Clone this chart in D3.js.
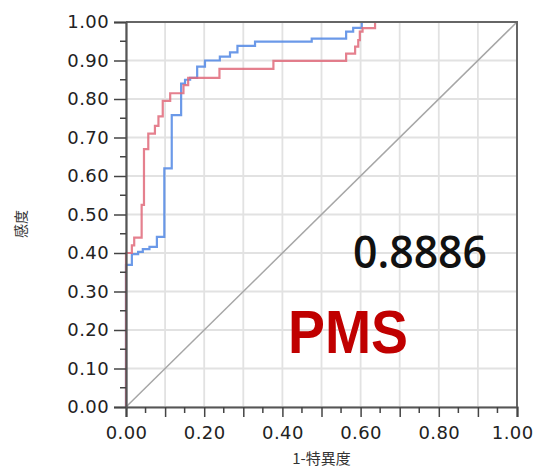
<!DOCTYPE html>
<html>
<head>
    <meta charset="utf-8">
    <script src="https://d3js.org/d3.v7.min.js"></script>
    <style>
        body { margin: 0; background: #fff; }
    </style>
</head>
<body>
    <script>
        // ROC data (step corners)
        var redFpr = [0, 0, 0.015, 0.021, 0.040, 0.046, 0.057, 0.074, 0.083, 0.094, 0.113, 0.147, 0.159, 0.239, 0.377, 0.563, 0.586, 0.594, 0.598, 0.605, 0.637, 1];
        var redTpr = [0, 0.40, 0.42, 0.44, 0.525, 0.67, 0.71, 0.73, 0.755, 0.795, 0.815, 0.836, 0.855, 0.878, 0.899, 0.918, 0.936, 0.953, 0.975, 0.984, 1, 1];
        var blueFpr = [0, 0, 0.015, 0.031, 0.043, 0.060, 0.079, 0.098, 0.117, 0.141, 0.151, 0.164, 0.182, 0.202, 0.240, 0.266, 0.285, 0.330, 0.475, 0.563, 0.581, 0.603, 1];
        var blueTpr = [0, 0.369, 0.397, 0.403, 0.41, 0.416, 0.442, 0.62, 0.758, 0.84, 0.85, 0.855, 0.884, 0.90, 0.91, 0.921, 0.938, 0.949, 0.957, 0.975, 0.985, 1, 1];
        var gridTicks = [0, 0.1, 0.2, 0.3, 0.4, 0.5, 0.6, 0.7, 0.8, 0.9, 1];
        var minorTicks = [0.05, 0.15, 0.25, 0.35, 0.45, 0.55, 0.65, 0.75, 0.85, 0.95];
        var xLabelTicks = [0, 0.2, 0.4, 0.6, 0.8, 1];
        var aucText = "0.8886";
        var markerText = "PMS";

        var w = 535, h = 468;
        var pl = 126, pr = 517, pt = 22, pb = 407;

        var svg = d3.select("body").append("svg").attr("width", w).attr("height", h);

        var x = d3.scaleLinear().domain([0, 1]).range([pl, pr]);
        var y = d3.scaleLinear().domain([0, 1]).range([pb, pt]);

        // grid
        var grid = svg.append("g");
        grid.selectAll(".gx").data(gridTicks).enter().append("line")
            .attr("x1", d => x(d)).attr("x2", d => x(d))
            .attr("y1", pt).attr("y2", pb)
            .attr("stroke", "#e2e2e2").attr("stroke-width", 1.8);
        grid.selectAll(".gy").data(gridTicks).enter().append("line")
            .attr("x1", pl).attr("x2", pr)
            .attr("y1", d => y(d)).attr("y2", d => y(d))
            .attr("stroke", "#e2e2e2").attr("stroke-width", 1.8);

        // diagonal reference
        svg.append("line")
            .attr("x1", x(0)).attr("y1", y(0)).attr("x2", x(1)).attr("y2", y(1))
            .attr("stroke", "#a6a6a6").attr("stroke-width", 1.5);

        // text annotations
        svg.append("text")
            .attr("x", 353).attr("y", 268)
            .attr("textLength", 134).attr("lengthAdjust", "spacingAndGlyphs")
            .attr("font-family", "'Open Sans', sans-serif").attr("font-size", 45)
            .attr("font-weight", 600)
            .attr("fill", "#111")
            .text(aucText);
        svg.append("text")
            .attr("x", 288).attr("y", 353)
            .attr("textLength", 120).attr("lengthAdjust", "spacingAndGlyphs")
            .attr("font-family", "'Liberation Sans', Arial, sans-serif").attr("font-weight", "bold").attr("font-size", 62)
            .attr("fill", "#c00000")
            .text(markerText);

        // curves
        var line = d3.line().curve(d3.curveStepAfter).x(d => x(d[0])).y(d => y(d[1]));
        svg.append("path")
            .datum(d3.zip(blueFpr, blueTpr))
            .attr("d", line)
            .attr("fill", "none").attr("stroke", "#5b8ee6").attr("stroke-width", 2.2).attr("opacity", 0.9);
        svg.append("path")
            .datum(d3.zip(redFpr, redTpr))
            .attr("d", line)
            .attr("fill", "none").attr("stroke", "#e06a7a").attr("stroke-width", 2.2).attr("opacity", 0.85);

        // frame (top, right)
        svg.append("path")
            .attr("d", "M" + pl + "," + pt + "H" + pr + "V" + pb)
            .attr("fill", "none").attr("stroke", "#666").attr("stroke-width", 2);

        // axes
        var xAxis = svg.append("g").attr("transform", "translate(0," + pb + ")")
            .call(d3.axisBottom(x).tickValues(gridTicks).tickSize(10).tickFormat(d => xLabelTicks.indexOf(d) >= 0 ? d3.format(".2f")(d) : ""));
        xAxis.append("g").selectAll("line").data(minorTicks).enter().append("line")
            .attr("x1", d => x(d)).attr("x2", d => x(d)).attr("y1", 0).attr("y2", 6)
            .attr("stroke", "#444").attr("stroke-width", 1.5);

        var yAxis = svg.append("g").attr("transform", "translate(" + pl + ",0)")
            .call(d3.axisLeft(y).tickValues(gridTicks).tickSize(12).tickFormat(d3.format(".2f")));
        yAxis.append("g").selectAll("line").data(minorTicks).enter().append("line")
            .attr("x1", 0).attr("x2", -6).attr("y1", d => y(d)).attr("y2", d => y(d))
            .attr("stroke", "#444").attr("stroke-width", 1.5);

        [xAxis, yAxis].forEach(function (g) {
            g.select(".domain").attr("stroke", "#555").attr("stroke-width", 2.2);
            g.selectAll(".tick line").attr("stroke", "#444").attr("stroke-width", 1.5);
            g.selectAll(".tick text")
                .attr("font-family", "'DejaVu Sans', sans-serif").attr("font-size", 18)
                .attr("letter-spacing", 0.4).attr("fill", "#222");
        });
        xAxis.selectAll(".tick text").attr("y", 19).attr("dy", "0.71em");
        // keep the last label inside the window, as in the original
        xAxis.selectAll(".tick text").filter(d => d === 1).attr("text-anchor", "end").attr("x", 16);
        yAxis.selectAll(".tick text").attr("x", -17);

        // axis titles
        svg.append("text")
            .attr("x", x(0.5)).attr("y", 464)
            .attr("text-anchor", "middle")
            .attr("font-family", "'Noto Sans CJK JP', sans-serif").attr("font-size", 15)
            .attr("fill", "#333")
            .text("1-特異度");
        svg.append("text")
            .attr("transform", "translate(26," + 224 + ") rotate(-90)")
            .attr("text-anchor", "middle")
            .attr("font-family", "'Noto Sans CJK JP', sans-serif").attr("font-size", 14)
            .attr("fill", "#333")
            .text("感度");
    </script>
</body>
</html>
